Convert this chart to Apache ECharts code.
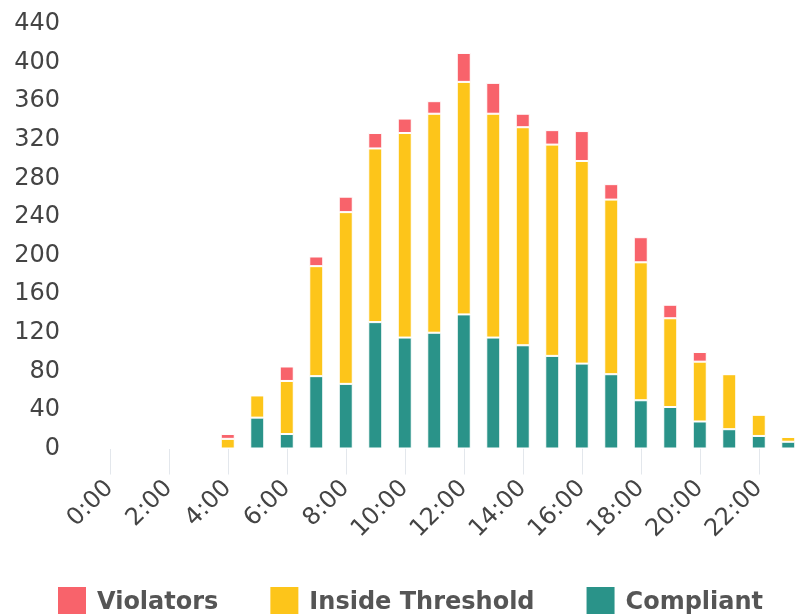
<!DOCTYPE html>
<html>
<head>
<meta charset="utf-8">
<script src="https://cdn.jsdelivr.net/npm/echarts@6/dist/echarts.min.js"></script>
<style>
html,body{margin:0;padding:0;background:#fff;}
#chart{width:803px;height:614px;}
</style>
</head>
<body>
<div id="chart"></div>
<script>
const categories = ['0:00','1:00','2:00','3:00','4:00','5:00','6:00','7:00','8:00','9:00','10:00','11:00','12:00','13:00','14:00','15:00','16:00','17:00','18:00','19:00','20:00','21:00','22:00','23:00'];
const compliant = [0,0,0,0,0,32,15,75,67,131,115,120,139,115,107,96,88,77,50,43,28,20,13,7];
const insideThreshold = [0,0,0,0,10,23,55,114,178,180,212,227,241,232,226,219,210,181,143,92,62,57,22,5];
const violators = [0,0,0,0,5,0,15,10,16,16,15,13,30,32,14,15,31,16,26,14,10,0,0,0];
const yTicks = {min:0, max:440, interval:40};

const chart = echarts.init(document.getElementById('chart'), null, {renderer:'canvas'});
const font = 'DejaVu Sans';
function s(name, data, color){
  return {
    name, type:'bar', stack:'total', data, barWidth:14,
    itemStyle:{color, borderColor:'#fff', borderWidth:1},
    emphasis:{disabled:true}
  };
}
chart.setOption({
  animation:false,
  color:['#f8636b','#fdc51a','#2a9389'],
  grid:{left:95, top:24, width:718, bottom:165.5},
  legend:{
    left:53, top:582, itemGap:52, itemWidth:28, itemHeight:32,
    icon:'rect',
    itemStyle:{borderWidth:0},
    data:['Violators','Inside Threshold','Compliant'],
    textStyle:{fontFamily:font, fontSize:24, fontWeight:'bold', color:'#555', padding:[0,0,0,6]}
  },
  xAxis:{
    type:'category', data:categories, boundaryGap:true,
    axisLine:{show:false},
    axisTick:{show:true, alignWithLabel:true, interval:1, length:26, lineStyle:{color:'#e3e7ec'}},
    axisLabel:{interval:1, rotate:45, margin:36, fontFamily:font, fontSize:24, color:'#444'}
  },
  yAxis:{
    type:'value', min:yTicks.min, max:yTicks.max, interval:yTicks.interval,
    axisLine:{show:false}, axisTick:{show:false}, splitLine:{show:false},
    axisLabel:{margin:35, fontFamily:font, fontSize:24, color:'#444'}
  },
  series:[
    s('Compliant', compliant, '#2a9389'),
    s('Inside Threshold', insideThreshold, '#fdc51a'),
    s('Violators', violators, '#f8636b')
  ]
});
</script>
</body>
</html>
